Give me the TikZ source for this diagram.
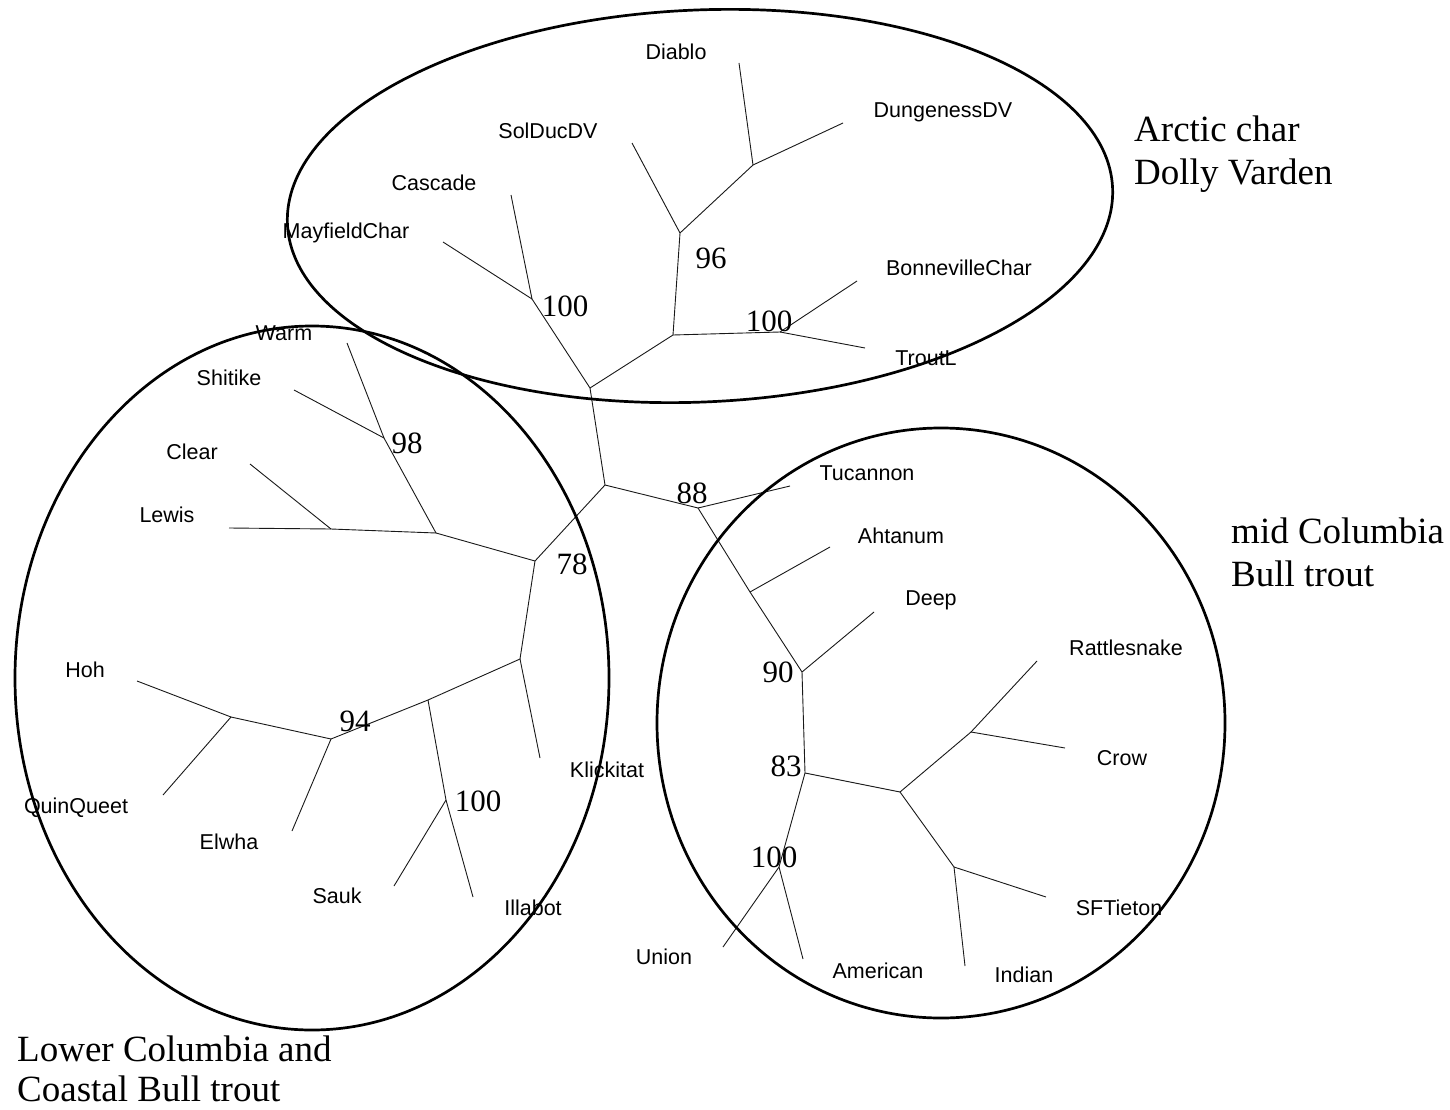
\documentclass[tikz,border=0pt]{standalone}
\usepackage{fontspec}
\setmainfont{Liberation Serif}
\newfontfamily\lbsans{Liberation Sans}
\begin{document}
\begin{tikzpicture}[x=1pt,y=-1pt,
  branch/.style={line width=0.9pt, draw=black!90},
  ring/.style={line width=2.7pt, draw=black},
  taxon/.style={font=\lbsans\fontsize{21.5}{25}\selectfont, inner sep=0pt, text height=15pt, text depth=0pt, anchor=center},
  boot/.style={font=\fontsize{31}{36}\selectfont, inner sep=0pt, anchor=center},
  grouplbl/.style={font=\fontsize{37}{43}\selectfont, inner sep=0pt, anchor=base west}]
\useasboundingbox (0,0) rectangle (1450,1110);
\fill[white] (0,0) rectangle (1450,1110);

% ---- tree coordinates ----
% top (char / Dolly Varden)
\coordinate (R0) at (590,388);
\coordinate (N100a) at (532,299);
\coordinate (tCascade) at (511,195);
\coordinate (tMayfield) at (443,242);
\coordinate (ND) at (673,335);
\coordinate (N96) at (680,233);
\coordinate (tSolDuc) at (632,143);
\coordinate (NDD) at (753,165);
\coordinate (tDiablo) at (739,63);
\coordinate (tDung) at (843,123);
\coordinate (N100b) at (780,332);
\coordinate (tBonn) at (857,281);
\coordinate (tTrout) at (865,348);
% mid Columbia
\coordinate (R1) at (605,485);
\coordinate (N88) at (698,508);
\coordinate (tTuc) at (790,486);
\coordinate (NF) at (750,592);
\coordinate (tAht) at (830,547);
\coordinate (N90) at (802,672);
\coordinate (tDeep) at (874,612);
\coordinate (N83) at (805,773);
\coordinate (N100c) at (779,867);
\coordinate (tUnion) at (723,947);
\coordinate (tAmer) at (803,959);
\coordinate (NG) at (900,792);
\coordinate (NH) at (971,732);
\coordinate (tRattle) at (1037,661);
\coordinate (tCrow) at (1065,748);
\coordinate (NI) at (954,867);
\coordinate (tSFT) at (1046,897);
\coordinate (tIndian) at (965,966);
% lower Columbia / coastal
\coordinate (N78) at (535,561);
\coordinate (NA) at (436,533);
\coordinate (N98) at (384,438);
\coordinate (tWarm) at (347,343);
\coordinate (tShitike) at (294,390);
\coordinate (NClear) at (331,529);
\coordinate (tLewis) at (229,528);
\coordinate (tClear) at (250,464);
\coordinate (NB) at (520,659);
\coordinate (tKlick) at (540,758);
\coordinate (NC) at (428,700);
\coordinate (NSauk) at (446,800);
\coordinate (tIllabot) at (473,897);
\coordinate (tSauk) at (394,886);
\coordinate (N94) at (331,739);
\coordinate (tElwha) at (292,831);
\coordinate (NE) at (231,717);
\coordinate (tHoh) at (137,681);
\coordinate (tQuin) at (163,795);

% ---- branches ----
\draw[branch] (R0) -- (N100a);
\draw[branch] (N100a) -- (tCascade);
\draw[branch] (N100a) -- (tMayfield);
\draw[branch] (R0) -- (ND);
\draw[branch] (ND) -- (N96);
\draw[branch] (N96) -- (tSolDuc);
\draw[branch] (N96) -- (NDD);
\draw[branch] (NDD) -- (tDiablo);
\draw[branch] (NDD) -- (tDung);
\draw[branch] (ND) -- (N100b);
\draw[branch] (N100b) -- (tBonn);
\draw[branch] (N100b) -- (tTrout);
\draw[branch] (R0) -- (R1);
\draw[branch] (R1) -- (N88);
\draw[branch] (N88) -- (tTuc);
\draw[branch] (N88) -- (NF);
\draw[branch] (NF) -- (tAht);
\draw[branch] (NF) -- (N90);
\draw[branch] (N90) -- (tDeep);
\draw[branch] (N90) -- (N83);
\draw[branch] (N83) -- (N100c);
\draw[branch] (N100c) -- (tUnion);
\draw[branch] (N100c) -- (tAmer);
\draw[branch] (N83) -- (NG);
\draw[branch] (NG) -- (NH);
\draw[branch] (NH) -- (tRattle);
\draw[branch] (NH) -- (tCrow);
\draw[branch] (NG) -- (NI);
\draw[branch] (NI) -- (tSFT);
\draw[branch] (NI) -- (tIndian);
\draw[branch] (R1) -- (N78);
\draw[branch] (N78) -- (NA);
\draw[branch] (NA) -- (N98);
\draw[branch] (N98) -- (tWarm);
\draw[branch] (N98) -- (tShitike);
\draw[branch] (NA) -- (NClear);
\draw[branch] (NClear) -- (tLewis);
\draw[branch] (NClear) -- (tClear);
\draw[branch] (N78) -- (NB);
\draw[branch] (NB) -- (tKlick);
\draw[branch] (NB) -- (NC);
\draw[branch] (NC) -- (NSauk);
\draw[branch] (NSauk) -- (tIllabot);
\draw[branch] (NSauk) -- (tSauk);
\draw[branch] (NC) -- (N94);
\draw[branch] (N94) -- (tElwha);
\draw[branch] (N94) -- (NE);
\draw[branch] (NE) -- (tHoh);
\draw[branch] (NE) -- (tQuin);

% ---- taxon labels ----
\node[taxon] (lDiablo) at (676,52) {Diablo};
\node[taxon] (lSolDuc) at (548,131) {SolDucDV};
\node[taxon] (lDung) at (943,110) {DungenessDV};
\node[taxon] (lCascade) at (434,183) {Cascade};
\node[taxon] (lMayfield) at (346,231) {MayfieldChar};
\node[taxon] (lBonn) at (959,268) {BonnevilleChar};
\node[taxon] (lTrout) at (926,358) {TroutL};
\node[taxon] (lWarm) at (284,333) {Warm};
\node[taxon] (lShitike) at (229,378) {Shitike};
\node[taxon] (lClear) at (192,452) {Clear};
\node[taxon] (lLewis) at (167,515) {Lewis};
\node[taxon] (lHoh) at (85,670) {Hoh};
\node[taxon] (lQuin) at (76,806) {QuinQueet};
\node[taxon] (lElwha) at (229,842) {Elwha};
\node[taxon] (lSauk) at (337,896) {Sauk};
\node[taxon] (lIllabot) at (533,908) {Illabot};
\node[taxon] (lKlick) at (607,770) {Klickitat};
\node[taxon] (lTuc) at (867,473) {Tucannon};
\node[taxon] (lAht) at (901,536) {Ahtanum};
\node[taxon] (lDeep) at (931,598) {Deep};
\node[taxon] (lRattle) at (1126,648) {Rattlesnake};
\node[taxon] (lCrow) at (1122,758) {Crow};
\node[taxon] (lSFT) at (1119,908) {SFTieton};
\node[taxon] (lIndian) at (1024,975) {Indian};
\node[taxon] (lAmer) at (878,971) {American};
\node[taxon] (lUnion) at (664,957) {Union};

% ---- bootstrap values ----
\node[boot] (b96) at (711,258) {96};
\node[boot] (b100a) at (565,306) {100};
\node[boot] (b100b) at (769,321) {100};
\node[boot] (b98) at (407,443) {98};
\node[boot] (b78) at (572,564) {78};
\node[boot] (b94) at (355,721) {94};
\node[boot] (b100d) at (478,801) {100};
\node[boot] (b88) at (692,493) {88};
\node[boot] (b90) at (778,672) {90};
\node[boot] (b83) at (786,766) {83};
\node[boot] (b100c) at (774,857) {100};

% ---- group ellipses ----
\draw[ring, rotate around={2.5:(700,206)}] (700,206) ellipse [x radius=413, y radius=196];
\draw[ring] (312,678) ellipse [x radius=297, y radius=352];
\draw[ring] (941,723) ellipse [x radius=284, y radius=295];

% ---- group labels ----
\node[grouplbl] (gArctic) at (1134,142) {Arctic char};
\node[grouplbl] (gDolly) at (1134,185) {Dolly Varden};
\node[grouplbl] (gMid) at (1231,543) {mid Columbia};
\node[grouplbl] (gBull) at (1231,586) {Bull trout};
\node[grouplbl] (gLower) at (17,1061) {Lower Columbia and};
\node[grouplbl] (gCoast) at (17,1101) {Coastal Bull trout};
\end{tikzpicture}
\end{document}
